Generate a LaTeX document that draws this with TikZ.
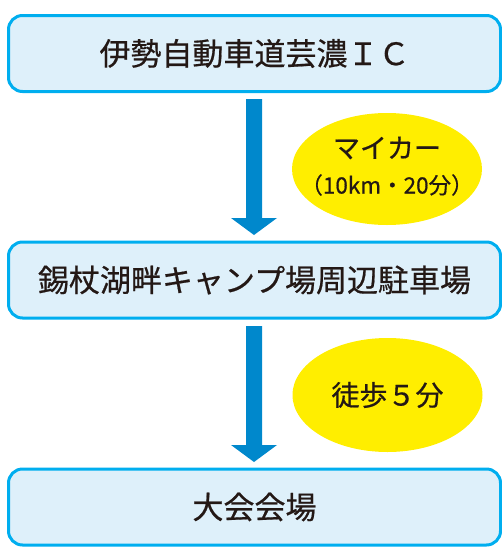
\documentclass[tikz,border=0pt]{standalone}
\usepackage{fontspec}
\setmainfont{Noto Sans CJK JP}[FakeBold=0.6]
\usetikzlibrary{shapes.geometric}
\definecolor{boxline}{RGB}{0,174,239}
\definecolor{boxfill}{RGB}{222,240,250}
\definecolor{arrowblue}{RGB}{0,136,204}
\definecolor{ellyellow}{RGB}{255,238,0}
\definecolor{txt}{RGB}{35,24,21}
\tikzset{
  stepbox/.style={draw=boxline, fill=boxfill, line width=3pt, rounded corners=14pt,
    minimum width=492pt, minimum height=76pt, inner sep=0pt, text=txt,
    font=\fontsize{31}{34}\selectfont},
  bubble/.style={ellipse, fill=ellyellow, minimum width=190pt, minimum height=112pt,
    inner sep=0pt},
  bubbletext/.style={text=txt, align=center, inner sep=0pt},
  flowarrow/.style={fill=arrowblue}
}
\begin{document}
\begin{tikzpicture}[x=1pt,y=-1pt]
\useasboundingbox (0,0) rectangle (502,552);
\node[stepbox] (b1) at (254.5,53.5) {伊勢自動車道芸濃ＩＣ};
\node[stepbox] (b2) at (254.5,280) {錫杖湖畔キャンプ場周辺駐車場};
\node[stepbox] (b3) at (254.5,507) {大会会場};
\node[bubble] (e1) at (387,169) {};
\node[bubble, minimum height=114pt] (e2) at (387.5,395) {};
\node[bubbletext, font=\fontsize{27}{30}\selectfont] (t1) at ([yshift=21]e1.center) {マイカー};
\node[bubbletext, font=\fontsize{22.5}{26}\selectfont] (t2) at ([yshift=-16]e1.center) {（10km・20分）};
\node[bubbletext, font=\fontsize{28}{32}\selectfont] (t3) at (e2.center) {徒歩５分};
% arrows
\coordinate (a1s) at (254,99);
\coordinate (a2s) at (254,326);
\fill[flowarrow] ([xshift=-8]a1s) -- ([xshift=8]a1s) -- (262,218) -- (277,218) -- (254,235) -- (231,218) -- (246,218) -- cycle;
\fill[flowarrow] ([xshift=-8]a2s) -- ([xshift=8]a2s) -- (262,445) -- (277,445) -- (254,462) -- (231,445) -- (246,445) -- cycle;
\end{tikzpicture}
\end{document}
